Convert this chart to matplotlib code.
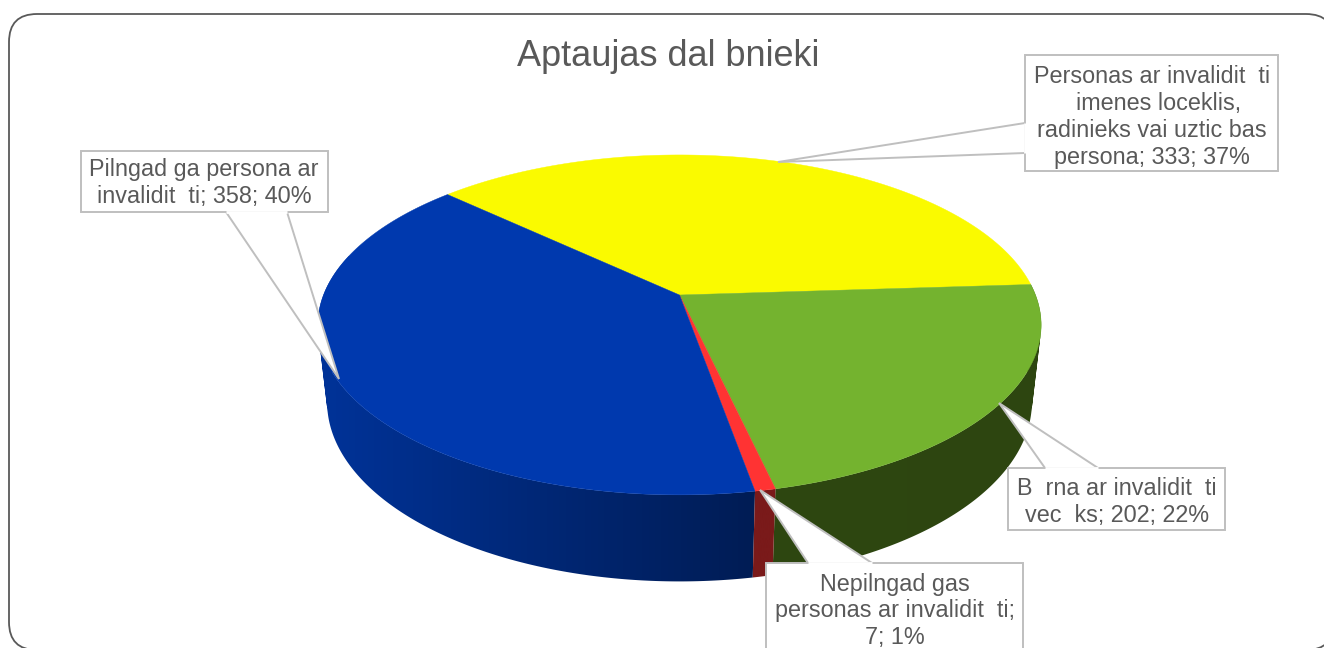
import numpy as np
import matplotlib
matplotlib.use("Agg")
import matplotlib.pyplot as plt
from matplotlib.patches import FancyBboxPatch, Polygon
from matplotlib.path import Path
from matplotlib.colors import to_rgb

# clockwise from the yellow slice
categories = ["Personas ar invalidit  ti imenes loceklis", "Berna", "Nepilngadigas", "Pilngadiga"]
values = [333, 202, 7, 358]
top_colors = ["#fafa00", "#74b32f", "#ff3333", "#0039ae"]
side_left = ["#8a8a00", "#2e4711", "#7a1a1a", "#003399"]
side_right = ["#8a8a00", "#2d4510", "#7a1a1a", "#001c54"]

title = "Aptaujas dal bnieki"
labels = [
    "Personas ar invalidit  ti\n  imenes loceklis,\nradinieks vai uztic bas\npersona; 333; 37%",
    "B  rna ar invalidit  ti\nvec  ks; 202; 22%",
    "Nepilngad gas\npersonas ar invalidit  ti;\n7; 1%",
    "Pilngad ga persona ar\ninvalidit  ti; 358; 40%",
]
# box x0, y0, x1, y1, pointer base a, pointer base b, tip
callouts = [
    ((1025, 55, 1278, 171), (1025, 153), (1025, 123), (778, 162)),
    ((1008, 468, 1225, 530), (1045, 468), (1098, 468), (999, 403)),
    ((766, 563, 1023, 665), (808, 563), (872, 563), (760, 490)),
    ((81, 151, 328, 212), (226, 212), (287, 212), (339, 379)),
]
text_x = [1152, 1117, 895, 204]
text_y = [117, 502, 611, 183]

# pie geometry in pixels
cx, cy = 679.5, 295
a, b, k = 356, 164.7, 0.176
vp_y = 3370
t0 = 0.0248
start_angle = 136.9


def project(theta):
    u = np.cos(theta)
    v = np.sin(theta)
    s = 1 + k * v
    return cx + a * u / s, cy - b * v / s, s


def lower(x, y, s):
    t = t0 / s
    return x + t * (cx - x), y + t * (vp_y - y)


def wall_path(x, y, xl, yl):
    # union of small quads, all wound the same way
    quads = []
    for j in range(len(x) - 1):
        q = np.array([(x[j], y[j]), (x[j + 1], y[j + 1]), (xl[j + 1], yl[j + 1]), (xl[j], yl[j]), (x[j], y[j])])
        area = np.sum(q[:-1, 0] * q[1:, 1] - q[1:, 0] * q[:-1, 1])
        if area < 0:
            q = q[::-1]
        quads.append(Path(q, closed=True))
    return Path.make_compound_path(*quads)


plt.rcParams["font.family"] = ["Liberation Sans", "DejaVu Sans"]
fig = plt.figure(figsize=(13.24, 6.48), dpi=100)
ax = fig.add_axes([0, 0, 1, 1])
ax.axis("off")

# chart frame
ax.add_patch(FancyBboxPatch((9, 14), 1325, 636, boxstyle="round,pad=0,rounding_size=28",
                            fc="white", ec="#595959", lw=1.3, zorder=0))

sweeps = np.array(values) / sum(values) * 2 * np.pi
starts = np.radians(start_angle) - np.concatenate(([0], np.cumsum(sweeps)[:-1]))

# side wall: one gradient image per slice, clipped to the slice's wall
for i in [3, 1, 2]:
    thetas = np.linspace(starts[i], starts[i] - sweeps[i], 300)
    thetas = thetas[np.sin(thetas) < 0.25]
    x, y, s = project(thetas)
    xl, yl = lower(x, y, s)
    f = np.linspace(0, 1, 256)[None, :, None]
    grad = (1 - f) * np.array(to_rgb(side_left[i]))[None, None, :] + f * np.array(to_rgb(side_right[i]))[None, None, :]
    im = ax.imshow(grad, extent=(min(x.min(), xl.min()) - 2, max(x.max(), xl.max()) + 2, 648, 0),
                   aspect="auto", zorder=2, interpolation="bilinear")
    im.set_clip_path(wall_path(x, y, xl, yl), transform=ax.transData)

# top face
for i in range(len(values)):
    thetas = np.linspace(starts[i], starts[i] - sweeps[i], 200)
    x, y, _ = project(thetas)
    pts = [(cx, cy)] + list(zip(x, y))
    ax.add_patch(Polygon(pts, fc=top_colors[i], ec=top_colors[i], lw=0.3, zorder=3))

# callouts with pointer
for (x0, y0, x1, y1), p1, p2, tip in callouts:
    ax.add_patch(Polygon([p1, tip, p2], fc="white", ec="#bfbfbf", lw=1.4, zorder=4, joinstyle="miter"))
    ax.add_patch(Polygon([(x0, y0), (x1, y0), (x1, y1), (x0, y1)], fc="white", ec="#bfbfbf", lw=1.4, zorder=4))
    # cover the border between box and pointer
    ax.plot([p1[0], p2[0]], [p1[1], p2[1]], color="white", lw=2, zorder=4.6, solid_capstyle="butt")

for i, lab in enumerate(labels):
    ax.text(text_x[i], text_y[i], lab, ha="center", va="center", fontsize=16.8, color="#595959",
            linespacing=1.22, zorder=5)

ax.text(668, 57, title, ha="center", va="center", fontsize=26, color="#595959", zorder=5)

ax.set_xlim(0, 1324)
ax.set_ylim(648, 0)
fig.savefig("out.png", dpi=100)
